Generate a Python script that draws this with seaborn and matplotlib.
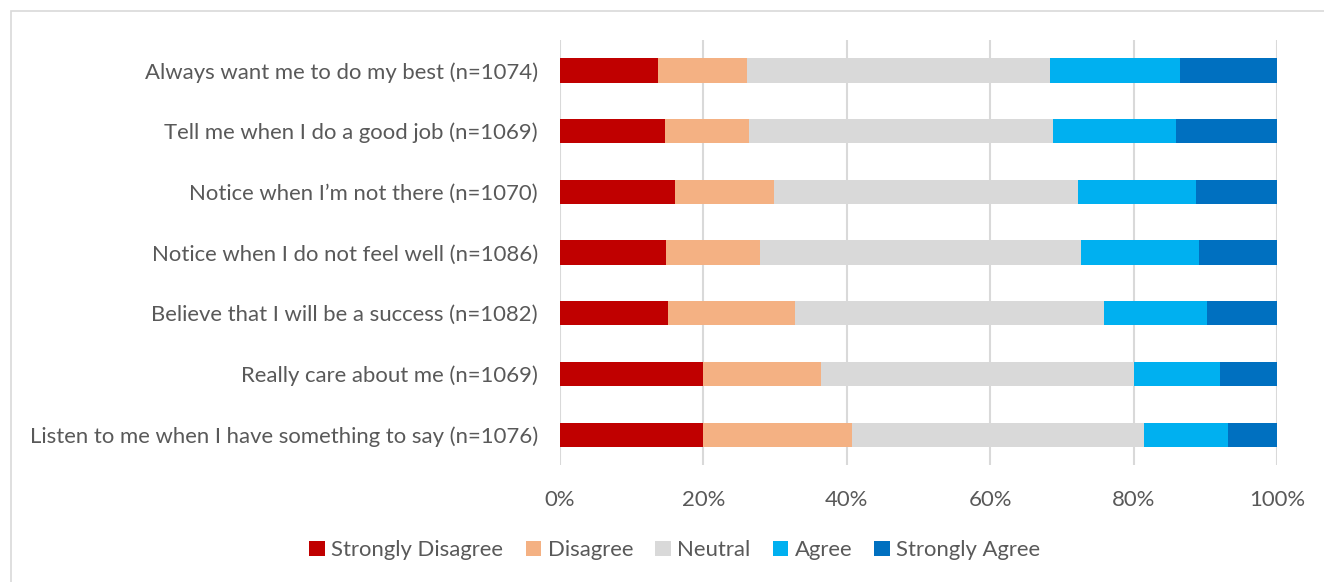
import matplotlib
matplotlib.use("Agg")
import matplotlib.pyplot as plt
import matplotlib.patches as mpatches
import numpy as np
import pandas as pd
import seaborn as sns

# Survey statements, top to bottom
statements = [
    "Always want me to do my best (n=1074)",
    "Tell me when I do a good job (n=1069)",
    "Notice when I\u2019m not there (n=1070)",
    "Notice when I do not feel well (n=1086)",
    "Believe that I will be a success (n=1082)",
    "Really care about me (n=1069)",
    "Listen to me when I have something to say (n=1076)",
]

# Response shares (%) per statement
strongly_disagree = [13.7, 14.7, 16.1, 14.8, 15.1, 19.9, 20.0]
disagree = [12.4, 11.7, 13.8, 13.1, 17.7, 16.5, 20.7]
neutral = [42.3, 42.4, 42.4, 44.7, 43.1, 43.6, 40.8]
agree = [18.1, 17.1, 16.4, 16.5, 14.3, 12.0, 11.7]
strongly_agree = [13.5, 14.1, 11.3, 10.9, 9.8, 8.0, 6.8]

responses = ["Strongly Disagree", "Disagree", "Neutral", "Agree", "Strongly Agree"]
colors = ["#C00000", "#F4B183", "#D9D9D9", "#00B0F0", "#0070C0"]
tick_labels = ["0%", "20%", "40%", "60%", "80%", "100%"]

sns.set_theme(style="white")
plt.rcParams["font.family"] = ["Lato", "DejaVu Sans"]
text_color = "#595959"
fs = 15.9

df = pd.DataFrame({
    "statement": statements,
    "Strongly Disagree": strongly_disagree,
    "Disagree": disagree,
    "Neutral": neutral,
    "Agree": agree,
    "Strongly Agree": strongly_agree,
})
# cumulative right edges for stacking
cum = df[responses].cumsum(axis=1)

fig = plt.figure(figsize=(13.24, 5.82), dpi=100)
ax = fig.add_axes([560 / 1324, 117 / 582, 717 / 1324, 425 / 582])

# draw from the outermost segment inward so each earlier segment overlays the next
for resp, col in reversed(list(zip(responses, colors))):
    sns.barplot(x=cum[resp], y=df["statement"], orient="h", color=col,
                width=0.4, ax=ax, saturation=1, edgecolor="none", linewidth=0)

ax.set_xlim(0, 100)
ax.set_ylim(6.5, -0.5)
ax.set_xticks([0, 20, 40, 60, 80, 100])
ax.set_xticklabels(tick_labels, fontsize=fs, color=text_color)
ax.tick_params(axis="y", labelsize=fs, labelcolor=text_color, length=0, pad=16)
ax.tick_params(axis="x", length=0, pad=18)
ax.set_xlabel("")
ax.set_ylabel("")
ax.xaxis.grid(True, color="#D9D9D9", linewidth=1.5)
ax.set_axisbelow(True)
for s in ax.spines.values():
    s.set_visible(False)

handles = [mpatches.Patch(facecolor=c, edgecolor="none", label=r) for r, c in zip(responses, colors)]
fig.legend(handles=handles, loc="center", bbox_to_anchor=(675 / 1324, 32 / 582),
           ncol=5, frameon=False, fontsize=fs, labelcolor=text_color,
           handlelength=0.7, handleheight=0.7, handletextpad=0.3, columnspacing=1.0)

# chart border
fig.patches.append(mpatches.Rectangle((11 / 1324, -0.2), 2.0, (582 - 11) / 582 + 0.2,
                                      transform=fig.transFigure, fill=False,
                                      edgecolor="#D9D9D9", linewidth=1.2))

fig.savefig("out.png", dpi=100)
